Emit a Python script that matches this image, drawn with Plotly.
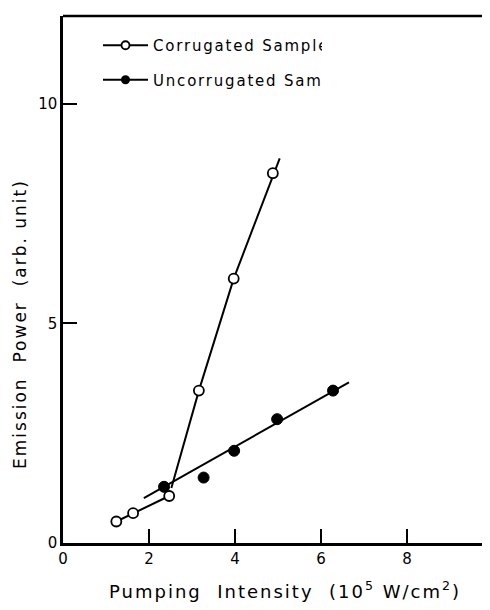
import plotly.graph_objects as go

# ---- data ----
corr_x = [1.24, 1.63, 2.47, 3.16, 3.97, 4.88]
corr_y = [0.49, 0.68, 1.07, 3.47, 6.02, 8.42]
uncorr_x = [2.35, 3.27, 3.98, 4.98, 6.28]
uncorr_y = [1.28, 1.49, 2.10, 2.82, 3.47]
# hand-drawn guide lines
corr_low_x = [1.24, 2.47]
corr_low_y = [0.49, 1.07]
corr_high_x = [2.52, 3.16, 3.97, 5.04]
corr_high_y = [1.25, 3.47, 6.02, 8.76]
uncorr_fit_x = [1.88, 6.65]
uncorr_fit_y = [1.02, 3.66]

x_ticks = [0, 2, 4, 6, 8]
y_ticks = [0, 5, 10]

FONT = "DejaVu Sans"
OFF = 8  # page body margin
W, H = 482, 602
L, R, T, B = 55, 0, 8, 67
PW, PH = W - L - R, H - T - B
TICKLEN = 14


def px_x(page_x):
    return (page_x - OFF - L) / PW


def px_y(page_y):
    return 1 - (page_y - OFF - T) / PH


fig = go.Figure()
line_style = dict(color="black", width=2)
for xs, ys in [(corr_low_x, corr_low_y), (corr_high_x, corr_high_y), (uncorr_fit_x, uncorr_fit_y)]:
    fig.add_trace(go.Scatter(x=xs, y=ys, mode="lines", line=line_style,
                             showlegend=False, hoverinfo="skip"))

fig.add_trace(go.Scatter(x=corr_x, y=corr_y, mode="markers", showlegend=False,
                         marker=dict(symbol="circle", size=10, color="white",
                                     line=dict(color="black", width=1.8))))
fig.add_trace(go.Scatter(x=uncorr_x, y=uncorr_y, mode="markers", showlegend=False,
                         marker=dict(symbol="circle", size=11, color="black",
                                     line=dict(color="black", width=1))))

# legend entries
fig.add_trace(go.Scatter(x=[None], y=[None], mode="lines+markers", legendgroup="a",
                         name="Corrugated Sample", line=line_style,
                         marker=dict(symbol="circle", size=8, color="white",
                                     line=dict(color="black", width=1.8))))
fig.add_trace(go.Scatter(x=[None], y=[None], mode="lines+markers", legendgroup="b",
                         name="Uncorrugated Sample", line=line_style,
                         marker=dict(symbol="circle", size=9, color="black")))

axis_common = dict(showgrid=False, zeroline=False, showline=True, linecolor="black",
                   linewidth=2.5, ticks="inside", ticklen=TICKLEN, tickwidth=2,
                   tickcolor="black", automargin=False,
                   tickfont=dict(family=FONT, size=15, color="black"))

fig.update_layout(
    width=W, height=H,
    margin=dict(l=L, r=R, t=T, b=B),
    plot_bgcolor="white", paper_bgcolor="white",
    xaxis=dict(range=[0, PW / 43.0], tickvals=x_ticks,
               ticktext=[str(v) for v in x_ticks], **axis_common),
    yaxis=dict(range=[0, 12.0], tickvals=y_ticks,
               ticktext=[str(v) for v in y_ticks], **axis_common),
    legend=dict(x=px_x(98), y=px_y(29),
                xanchor="left", yanchor="top",
                bgcolor="rgba(0,0,0,0)", itemwidth=45, tracegroupgap=12,
                font=dict(family=FONT, size=15, color="black")),
    showlegend=True,
)

# top frame line
fig.add_shape(type="line", xref="paper", yref="paper", x0=0, x1=1, y0=1, y1=1,
              line=dict(color="black", width=2.5))

fig.add_annotation(text="Emission  Power  (arb. unit)",
                   textangle=-90, xref="paper", yref="paper",
                   x=px_x(20), y=px_y(324), xanchor="center", yanchor="middle",
                   showarrow=False, font=dict(family=FONT, size=17, color="black"))
fig.add_annotation(text="Pumping  Intensity  (10<sup>5</sup> W/cm<sup>2</sup>)",
                   xref="paper", yref="paper",
                   x=px_x(285), y=px_y(590), xanchor="center", yanchor="middle",
                   showarrow=False, font=dict(family=FONT, size=18, color="black"))

# widen the lettering after rendering (the reference uses wide-set type)
post = """
var gd = document.getElementById('{plot_id}');
function spread() {
  gd.querySelectorAll('.legendtext').forEach(function (e) { e.style.letterSpacing = '1.8px'; });
  gd.querySelectorAll('.annotation-text').forEach(function (e) { e.style.letterSpacing = '2px'; });
}
spread();
if (gd.on) { gd.on('plotly_afterplot', spread); }
"""

fig.write_html("out.html", post_script=post)
